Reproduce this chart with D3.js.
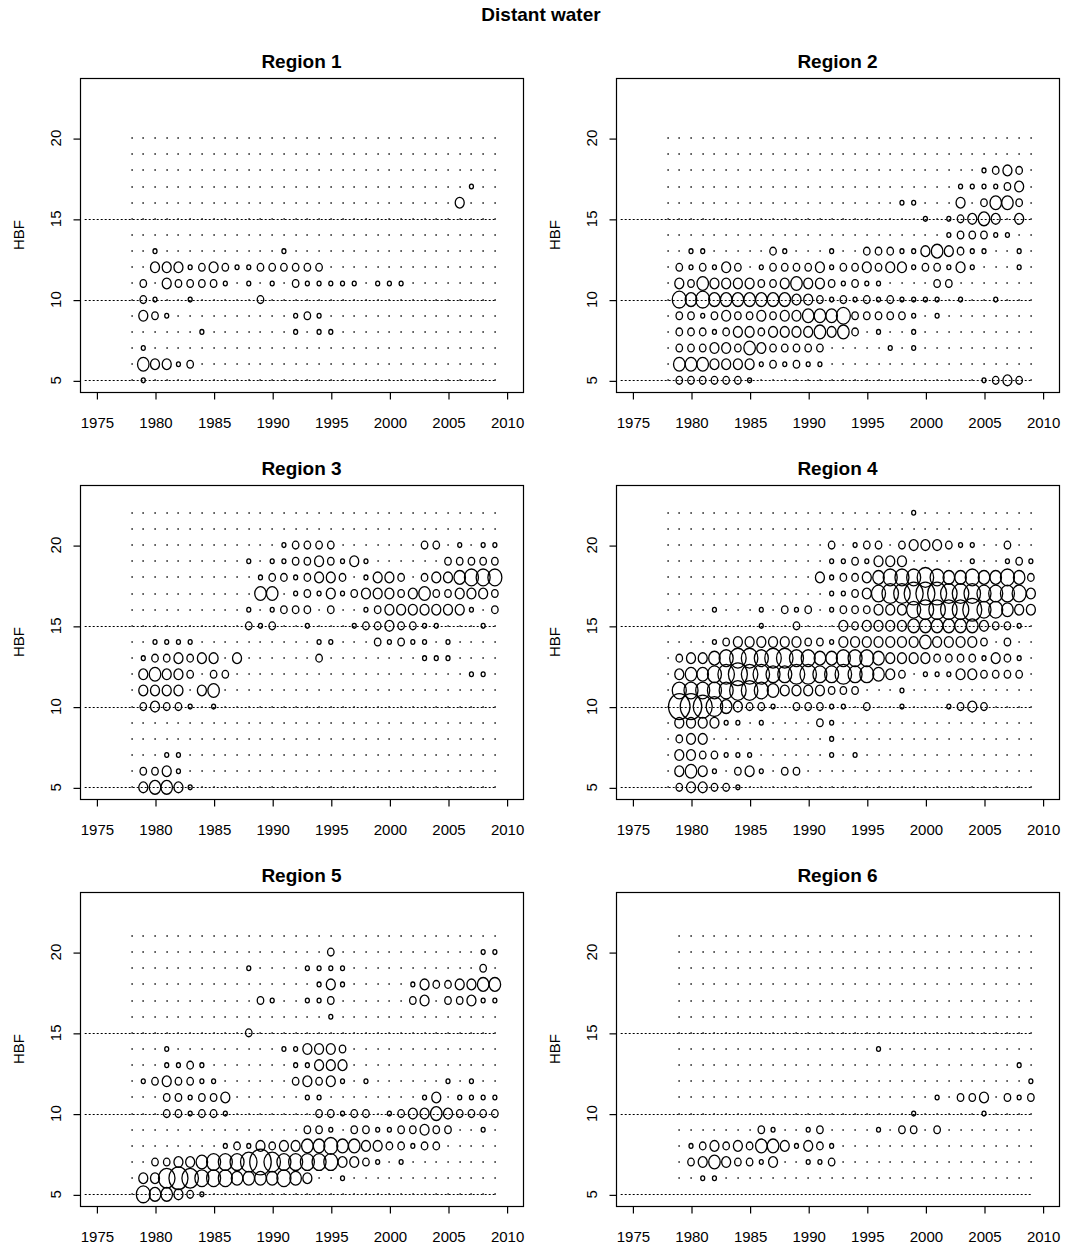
<!DOCTYPE html>
<html><head><meta charset="utf-8">
<script src="https://cdn.jsdelivr.net/npm/d3@7/dist/d3.min.js"></script>
<style>
body{margin:0;background:#fff}
svg{display:block}
text{font-family:"Liberation Sans",Arial,Helvetica,sans-serif;fill:#000}
</style>
</head><body>
<svg id="chart" width="1067" height="1249"></svg>
<script>
// ---------- data ----------
const mainTitle = "Distant water";
const yLabel = "HBF";
const regionNames = ["Region 1","Region 2","Region 3","Region 4","Region 5","Region 6"];
const years = [1978,1979,1980,1981,1982,1983,1984,1985,1986,1987,1988,1989,1990,1991,1992,1993,
               1994,1995,1996,1997,1998,1999,2000,2001,2002,2003,2004,2005,2006,2007,2008,2009];
const xTicks = [1975,1980,1985,1990,1995,2000,2005,2010];
const yTicks = [5,10,15,20];
const refLines = [5,10,15];
const hbf20 = [20,19,18,17,16,15,14,13,12,11,10,9,8,7,6,5];
const hbf21 = [21,20,19,18,17,16,15,14,13,12,11,10,9,8,7,6,5];
const hbf22 = [22,21,20,19,18,17,16,15,14,13,12,11,10,9,8,7,6,5];
// size class per (HBF row, year); columns 1978-79 | 80-84 | 85-89 | 90-94 | 95-99 | 00-04 | 05-09
// "." = near-zero, "-" = no data, 1..9 = relative bubble size
const region1 = [
".. ..... ..... ..... ..... ..... .....",
".. ..... ..... ..... ..... ..... .....",
".. ..... ..... ..... ..... ..... .....",
".. ..... ..... ..... ..... ..... ..1..",
".. ..... ..... ..... ..... ..... .3...",
".. ..... ..... ..... ..... ..... .....",
".. ..... ..... ..... ..... ..... .....",
".. 1.... ..... .1... ..... ..... .....",
".. 33312 32112 22222 ..... ..... .....",
".2 .3222 21.1. 1.211 111.1 11... .....",
".2 1..1. ....2 ..... ..... ..... .....",
".3 21... ..... ..121 ..... ..... .....",
".. ....1 ..... ..1.1 1.... ..... .....",
".1 ..... ..... ..... ..... ..... .....",
".4 3312. ..... ..... ..... ..... .....",
".1 ..... ..... ..... ..... ..... ....."
];
const region2 = [
".. ..... ..... ..... ..... ..... .....",
".. ..... ..... ..... ..... ..... .....",
".. ..... ..... ..... ..... ..... 1232.",
".. ..... ..... ..... ..... ...11 1123.",
".. ..... ..... ..... ...11 ...3. 2442.",
".. ..... ..... ..... ..... 1.123 43.3.",
".. ..... ..... ..... ..... ..122 211..",
".. 11... ..21. ..1.. 22211 34321 1..1.",
".2 12132 .1222 23122 32331 22131 ...1.",
".3 24333 32234 33212 11... .22.. .....",
".5 45444 44443 32121 21211 11.1. .1...",
".2 21232 23233 44452 22221 .1... .....",
".2 22123 32333 34342 .1..1 ..... .....",
".2 22332 43222 22... ..1.1 ..... .....",
".4 44333 31212 11... ..... ..... .....",
".2 22222 1.... ..... ..... ..... 1232."
];
const region3 = [
".. ..... ..... ..... ..... ..... .....",
".. ..... ..... ..... ..... ..... .....",
".. ..... ..... .1222 2.... ...22 .1.11",
".. ..... ...1. 11223 2131. ..... 22222",
".. ..... ....1 22123 32.13 32.23 34555",
".. ..... ....4 4.121 31233 32342 23332",
".. ..... ...1. 1222. 2..12 33333 331.2",
".. ..... ...21 2..1. ..122 32211 ...1.",
".. 1111. ..... ....1 1...2 1211. 1....",
".1 22323 3.3.. ....2 ..... ...11 1....",
".3 4332. 22... ..... ..... ..... ..11.",
".3 333.3 4.... ..... ..... ..... .....",
".2 3221. 1.... ..... ..... ..... .....",
".. ..... ..... ..... ..... ..... .....",
".. ..... ..... ..... ..... ..... .....",
".. .11.. ..... ..... ..... ..... .....",
".2 231.. ..... ..... ..... ..... .....",
".3 4431. ..... ..... ..... ..... ....."
];
const region4 = [
".. ..... ..... ..... ....1 ..... .....",
".. ..... ..... ..... ..... ..... .....",
".. ..... ..... ..2.1 22.23 33211 ..2..",
".. ..... ..... ..112 1333. ....1 ..121",
".. ..... ..... .3122 34555 65445 44542",
".. ..... ..... ..112 35667 77666 55553",
".. ..1.. .1.21 2.122 23335 66667 55433",
".. ..... .1..2 ...32 33334 44444 3221.",
".. ..123 33333 22133 33333 43333 2.2..",
".2 33456 65665 54455 54333 32222 1321.",
".3 44567 66556 65565 5432. 11133 2222.",
".5 55556 65433 33222 ...1. ..... .....",
".8 87643 221.2 2211. 2..1. ..123 2....",
".3 33311 .1... .21.. ..... ..... .....",
".2 33... ..... ..1.. ..... ..... .....",
".3 32211 1.... ..1.1 ..... ..... .....",
".3 431.2 31.22 ..... ..... ..... .....",
".2 33221 ..... ..... ..... ..... ....."
];
const region5 = [
".. ..... ..... ..... ..... ..... .....",
".. ..... ..... ..... 2.... ..... ...11",
".. ..... ...1. ...11 11... ..... ...2.",
".. ..... ..... ....1 31... ..132 23344",
".. ..... ....2 1..11 2.... ..23. 22311",
".. ..... ..... ..... 1.... ..... .....",
".. ..... ...2. ..... ..... ..... .....",
".. .1... ..... .1133 32... ..... .....",
".. .1121 ..... ..113 33... ..... .....",
".1 23221 1.... ..232 31.1. ..... 1.1..",
".. .2212 23... ...11 ..... ...13 .1111",
".. .2212 21... ....2 2122. 12334 32222",
".. ..... ..... ...22 1.221 12232 2..1.",
".. ..... .1213 23344 54433 22122 .....",
".. 22334 55568 65555 53321 .1... .....",
".3 36765 55444 4543. .1... ..... .....",
".5 44321 ..... ..... ..... ..... ....."
];
const region6 = [
"-. ..... ..... ..... ..... ..... .....",
"-. ..... ..... ..... ..... ..... .....",
"-. ..... ..... ..... ..... ..... .....",
"-. ..... ..... ..... ..... ..... .....",
"-. ..... ..... ..... ..... ..... .....",
"-. ..... ..... ..... ..... ..... .....",
"-. ..... ..... ..... ..... ..... .....",
"-. ..... ..... ..... .1... ..... .....",
"-. ..... ..... ..... ..... ..... ...1.",
"-. ..... ..... ..... ..... ..... ....1",
"-. ..... ..... ..... ..... .1.22 3.212",
"-. ..... ..... ..... ....1 ..... 1....",
"-. ..... .21.. 12... .1.22 .2... .....",
"-. 12323 24431 321.. ..... ..... .....",
"-. 23432 213.. 112.. ..... ..... .....",
"-. .11.. ..... ..... ..... ..... ....."
];

// ---------- layout ----------
const svg = d3.select("#chart");
const W = 443, H = 314;
const colX = [80, 616], rowY = [78, 485, 892];
const x = d3.scaleLinear().domain([1973.6, 2011.4]).range([0, W]);
const y = d3.scaleLinear().domain([4.28, 23.72]).range([H, 0]);
const rx = d3.scaleLinear().domain([1, 9]).range([2, 12]);
const aspect = 1.2;

svg.append("rect").attr("width",1067).attr("height",1249).attr("fill","#fff");
svg.append("text").attr("x", 541).attr("y", 21).attr("text-anchor","middle")
   .attr("font-weight","bold").attr("font-size", 19).text(mainTitle);

const panels = [
  {name: regionNames[0], hbf: hbf20, rows: region1},
  {name: regionNames[1], hbf: hbf20, rows: region2},
  {name: regionNames[2], hbf: hbf22, rows: region3},
  {name: regionNames[3], hbf: hbf22, rows: region4},
  {name: regionNames[4], hbf: hbf21, rows: region5},
  {name: regionNames[5], hbf: hbf21, rows: region6}
];

panels.forEach((p, i) => {
  const g = svg.append("g").attr("transform", `translate(${colX[i%2]},${rowY[Math.floor(i/2)]})`);
  const pts = [];
  p.rows.forEach((row, ri) => {
    const chars = row.replace(/ /g, "");
    years.forEach((yr, ci) => {
      const c = chars[ci];
      if (c === "-" || c === undefined) return;
      pts.push({year: yr, hbf: p.hbf[ri], v: c === "." ? 0 : +c});
    });
  });
  // reference dotted lines
  g.selectAll("line.ref").data(refLines).join("line")
    .attr("x1", x(1974)).attr("x2", x(years[years.length-1]))
    .attr("y1", d => Math.round(y(d)) + 0.5).attr("y2", d => Math.round(y(d)) + 0.5)
    .attr("stroke", "#000").attr("stroke-width", 1).attr("stroke-dasharray", "2,2");
  // near-zero marks
  g.selectAll("rect.z").data(pts.filter(d => d.v === 0)).join("rect")
    .attr("x", d => Math.round(x(d.year)) - 0.5).attr("y", d => Math.round(y(d.hbf)) - 1)
    .attr("width", 1.2).attr("height", 2).attr("fill", "#222");
  // bubbles
  g.selectAll("ellipse.b").data(pts.filter(d => d.v > 0)).join("ellipse")
    .attr("cx", d => x(d.year)).attr("cy", d => y(d.hbf))
    .attr("rx", d => rx(d.v)).attr("ry", d => rx(d.v) * aspect)
    .attr("fill", "none").attr("stroke", "#000").attr("stroke-width", 1.3);
  // box
  g.append("rect").attr("x", 0.5).attr("y", 0.5).attr("width", W).attr("height", H)
    .attr("fill", "none").attr("stroke", "#000").attr("stroke-width", 1.2);
  // x axis
  const xa = g.append("g").attr("transform", `translate(0.5,${H+0.5})`)
    .call(d3.axisBottom(x).tickValues(xTicks).tickFormat(d3.format("d")).tickSize(7).tickPadding(18));
  xa.select(".domain").remove();
  xa.selectAll("line").attr("stroke","#000").attr("stroke-width", 1.2);
  xa.selectAll("text").attr("font-size", 15).attr("font-family", null).attr("fill","#000");
  // y axis
  const ya = g.append("g").attr("transform", `translate(0.5,0.5)`)
    .call(d3.axisLeft(y).tickValues(yTicks).tickSize(7).tickFormat(""));
  ya.select(".domain").remove();
  ya.selectAll("line").attr("stroke","#000").attr("stroke-width", 1.2);
  g.selectAll("text.yt").data(yTicks).join("text").attr("class","yt")
    .attr("transform", d => `translate(-19,${y(d)}) rotate(-90)`)
    .attr("text-anchor","middle").attr("font-size", 15).text(d => d);
  g.append("text").attr("transform", `translate(-56,${H/2}) rotate(-90)`)
    .attr("text-anchor","middle").attr("font-size", 15).text(yLabel);
  // title
  g.append("text").attr("x", W/2).attr("y", -10).attr("text-anchor","middle")
    .attr("font-weight","bold").attr("font-size", 19).text(p.name);
});
</script>
</body></html>
